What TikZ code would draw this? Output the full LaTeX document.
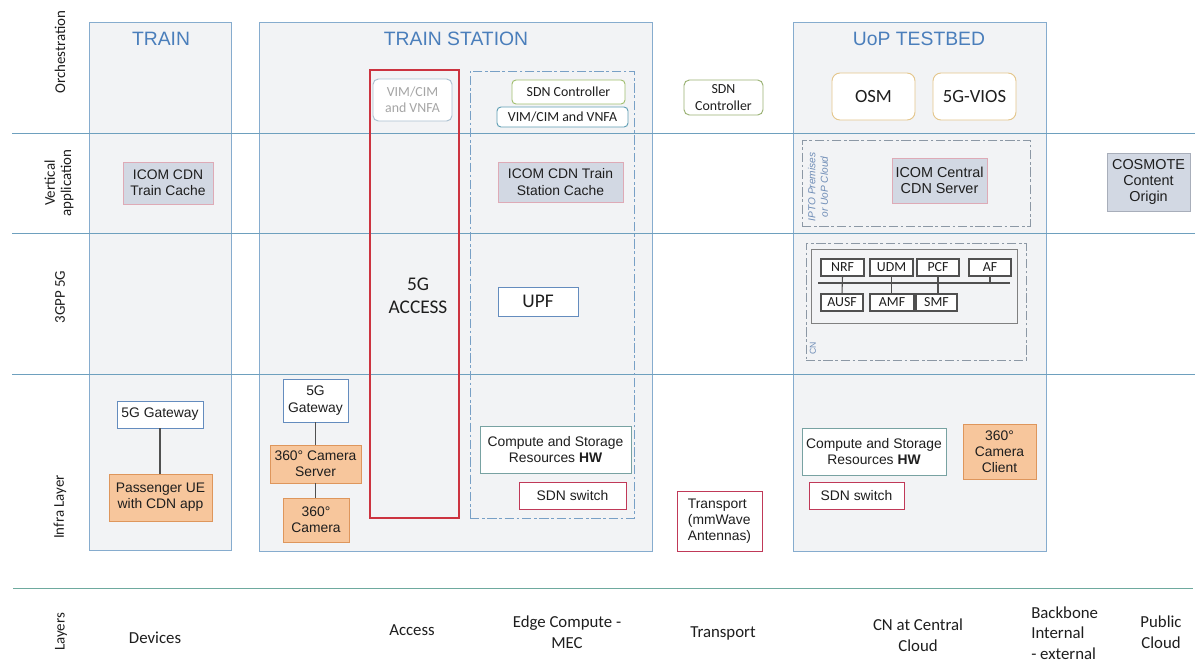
\documentclass[tikz,border=0pt]{standalone}
\usepackage{fontspec}
\setmainfont{Liberation Sans}
\newfontfamily\calibri{Carlito}

\definecolor{colfill}{RGB}{242,243,245}
\definecolor{colborder}{RGB}{134,172,206}
\definecolor{sepline}{RGB}{110,160,190}
\definecolor{botline}{RGB}{110,170,158}
\definecolor{titleblue}{RGB}{74,126,187}
\definecolor{txt}{RGB}{30,30,30}
\definecolor{accred}{RGB}{204,51,63}
\definecolor{swred}{RGB}{192,57,88}
\definecolor{edgeblue}{RGB}{120,160,198}
\definecolor{ctrlgreen}{RGB}{160,190,110}
\definecolor{vimteal}{RGB}{95,158,180}
\definecolor{fadeborder}{RGB}{170,192,208}
\definecolor{fadetext}{RGB}{165,165,165}
\definecolor{tanborder}{RGB}{228,198,140}
\definecolor{orfill}{RGB}{247,198,156}
\definecolor{orborder}{RGB}{222,150,92}
\definecolor{cdnfill}{RGB}{210,216,227}
\definecolor{cdnborder}{RGB}{222,170,182}
\definecolor{grayborder}{RGB}{168,174,186}
\definecolor{gwblue}{RGB}{100,140,190}
\definecolor{hwteal}{RGB}{120,162,162}
\definecolor{nfgray}{RGB}{80,80,80}
\definecolor{dashgray}{RGB}{140,152,165}
\definecolor{iptotext}{RGB}{110,140,182}

\tikzset{
  px/.style 2 args={minimum width={#1*0.75pt}, minimum height={#2*0.75pt}},
  colbox/.style={draw=colborder, fill=colfill, line width=0.65pt},
  coltitle/.style={text=titleblue, font=\fontsize{14.5}{17}\selectfont, inner sep=0},
  rowlab/.style={rotate=90, font=\calibri\fontsize{11.2}{12.2}\selectfont, align=center, text=txt, inner sep=0},
  laylab/.style={font=\calibri\fontsize{12.6}{15.5}\selectfont, align=center, text=txt, inner sep=0},
  abox/.style={rectangle, inner sep=0, align=center, text=txt, line width=0.7pt,
    font=\fontsize{10.4}{12.2}\selectfont},
  cbox/.style={rectangle, inner sep=0, align=center, text=txt, line width=0.7pt,
    font=\calibri\fontsize{10.4}{12.3}\selectfont},
  bigc/.style={inner sep=0, align=center, text=txt, line width=0.7pt,
    font=\calibri\fontsize{14.5}{17.3}\selectfont},
  cdn/.style={abox, draw=cdnborder, fill=cdnfill},
  orange/.style={abox, draw=orborder, fill=orfill},
  gw/.style={abox, draw=gwblue, fill=white},
  hw/.style={abox, draw=hwteal, fill=white},
  sdnsw/.style={abox, draw=swred, fill=white},
  nf/.style={cbox, draw=nfgray, fill=white, line width=0.8pt},
  dashbox/.style={draw=#1, line width=0.65pt, dash pattern=on 7pt off 2pt on 2pt off 2pt},
  sep/.style={draw=#1, line width=0.6pt},
  link/.style={draw=nfgray, line width=0.8pt},
}

\begin{document}
\begin{tikzpicture}[x=0.75pt, y=-0.75pt]
\useasboundingbox (0,0) rectangle (1195,662);
\fill[white] (0,0) rectangle (1195,662);

% domain columns
\node[colbox, px={142}{528}, anchor=north west] (train) at (89,22) {};
\node[colbox, px={393}{529}, anchor=north west] (station) at (259,22) {};
\node[colbox, px={253}{529}, anchor=north west] (uop) at (793,22) {};

\node[coltitle] (trainT) at (161,38.5) {TRAIN};
\node[coltitle] (stationT) at (456,38.5) {TRAIN STATION};
\node[coltitle] (uopT) at (919,38.5) {UoP TESTBED};

% layer separators
\coordinate (s1a) at (12,133);  \coordinate (s1b) at (1195,133);
\coordinate (s2a) at (12,233);  \coordinate (s2b) at (1195,233);
\coordinate (s3a) at (12,374);  \coordinate (s3b) at (1195,374);
\coordinate (s4a) at (13,588);  \coordinate (s4b) at (1193,588);
\draw[sep=sepline] (s1a) -- (s1b);
\draw[sep=sepline] (s2a) -- (s2b);
\draw[sep=sepline] (s3a) -- (s3b);
\draw[sep=botline] (s4a) -- (s4b);

% row labels
\node[rowlab] (rOrch) at (60,52) {Orchestration};
\node[rowlab] (rVert) at (59,183) {Vertical\\application};
\node[rowlab] (r3gpp) at (60,297) {3GPP 5G};
\node[rowlab] (rInfra) at (60,507) {Infra Layer};
\node[rowlab] (rLay) at (61,632) {Layers};

% bottom layer names
\node[laylab] (lDev) at (155,638) {Devices};
\node[laylab] (lAcc) at (412,630) {Access};
\node[laylab] (lEdge) at (567,632) {Edge Compute -\\MEC};
\node[laylab] (lTr) at (723,633) {Transport};
\node[laylab] (lCN) at (918,635) {CN at Central\\Cloud};
\node[laylab, align=left, anchor=west] (lBb) at (1031,633) {Backbone\\Internal\\- external};
\node[laylab] (lPub) at (1161,632) {Public\\Cloud};

% access and edge containers
\node[draw=accred, line width=0.8pt, px={89}{448}] (access) at (414.5,294) {};
\node[bigc] (accessT) at (418,296) {5G\\ACCESS};
\node[dashbox=edgeblue, px={164}{447}] (edge) at (552,294.5) {};

% orchestration
\node[cbox, draw=fadeborder, fill=white, text=fadetext, rounded corners=4pt, px={79}{42}] (vimA) at (412.5,100) {VIM/CIM\\and VNFA};
\node[cbox, draw=ctrlgreen, fill=white, rounded corners=3pt, px={113}{24}] (sdnc1) at (568.5,92) {SDN Controller};
\node[cbox, draw=vimteal, fill=white, rounded corners=3pt, px={131}{20}] (vimB) at (562.5,117) {VIM/CIM and VNFA};
\node[cbox, draw=ctrlgreen!80!gray, fill=white, rounded corners=4pt, px={79}{35}] (sdnc2) at (723.5,97.5) {SDN\\Controller};
\node[bigc, draw=tanborder, fill=white, rounded corners=6pt, px={83}{47}, font=\calibri\fontsize{14}{16}\selectfont] (osm) at (873.5,96.5) {OSM};
\node[bigc, draw=tanborder, fill=white, rounded corners=6pt, px={83}{47}, font=\calibri\fontsize{14}{16}\selectfont] (vios) at (974.5,96.5) {5G-VIOS};

% vertical application
\node[cdn, px={90}{42}] (cacheT) at (168,183) {ICOM CDN\\Train Cache};
\node[cdn, px={125}{40}] (cacheS) at (560.5,182) {ICOM CDN Train\\Station Cache};
\node[dashbox=dashgray, px={228}{86}] (ipto) at (916,183) {};
\node[rotate=90, text=iptotext, align=center, inner sep=0, font=\itshape\fontsize{7.6}{9.5}\selectfont] (iptoT) at (818,187) {IPTO Premises\\or UoP Cloud};
\node[cdn, px={95}{45}, font=\fontsize{10.8}{12.4}\selectfont] (central) at (939.5,180.5) {ICOM Central\\CDN Server};
\node[abox, draw=grayborder, fill=cdnfill, px={83}{58}, font=\fontsize{10.8}{12.3}\selectfont] (cosmote) at (1148.5,182) {COSMOTE\\Content\\Origin};

% 3GPP 5G core
\node[bigc, draw=gwblue, fill=white, px={80}{29}] (upf) at (538,301.5) {UPF};
\node[dashbox=dashgray, px={220}{117}] (cn) at (916,301.5) {};
\node[rotate=90, text=iptotext, inner sep=0, font=\fontsize{6.5}{8}\selectfont] (cnT) at (813,348) {CN};
\node[draw=gray, line width=0.7pt, fill=colfill, px={206}{74}] (cnin) at (914,286) {};
\coordinate (busL) at (818,283);
\coordinate (busR) at (1010,283);
\draw[link] (busL) -- (busR);
\node[nf, px={43}{17}] (nrf) at (842.5,267.5) {NRF};
\node[nf, px={43}{17}] (udm) at (891.5,267.5) {UDM};
\node[nf, px={42}{17}] (pcf) at (938,267.5) {PCF};
\node[nf, px={42}{17}] (af) at (990,267.5) {AF};
\node[nf, px={42}{17}] (ausf) at (842,302.5) {AUSF};
\node[nf, px={44}{17}] (amf) at (892,302.5) {AMF};
\node[nf, px={41}{17}] (smf) at (936.5,302.5) {SMF};
\draw[link] (nrf.south) -- (ausf.north);
\draw[link] (udm.south) -- (udm.south |- amf.north);
\draw[link] (pcf.south) -- (pcf.south |- smf.north);
\draw[link] (af.south) -- (af.south |- busR);

% infrastructure
\node[gw, px={86}{27}] (gw1) at (160,414.5) {5G Gateway};
\node[orange, px={103}{47}] (ue) at (160.5,497.5) {Passenger UE\\with CDN app};
\draw[link] (gw1.south) -- (gw1.south |- ue.north);

\node[gw, px={65}{43}] (gw2) at (315.5,400.5) {5G\\Gateway};
\node[orange, px={91}{38}] (camsrv) at (315.5,464) {360° Camera\\Server};
\node[orange, px={66}{44}] (cam) at (316,520) {360°\\Camera};
\draw[link] (gw2.south) -- (camsrv.north);
\draw[link] (camsrv.south) -- (camsrv.south |- cam.north);

\node[hw, px={151}{47}] (hw1) at (555.5,449.5) {Compute and Storage\\Resources \textbf{HW}};
\node[sdnsw, px={107}{27}] (sw1) at (572.5,495.5) {SDN switch};
\node[abox, draw=swred, fill=white, px={85}{60}, align=left] (transport) at (719.5,521) {Transport\\(mmWave\\Antennas)};

\node[hw, px={144}{47}] (hw2) at (874,451.5) {Compute and Storage\\Resources \textbf{HW}};
\node[sdnsw, px={95}{27}] (sw2) at (856.5,495.5) {SDN switch};
\node[orange, px={73}{55}] (camcl) at (999.5,451.5) {360°\\Camera\\Client};
\end{tikzpicture}
\end{document}
